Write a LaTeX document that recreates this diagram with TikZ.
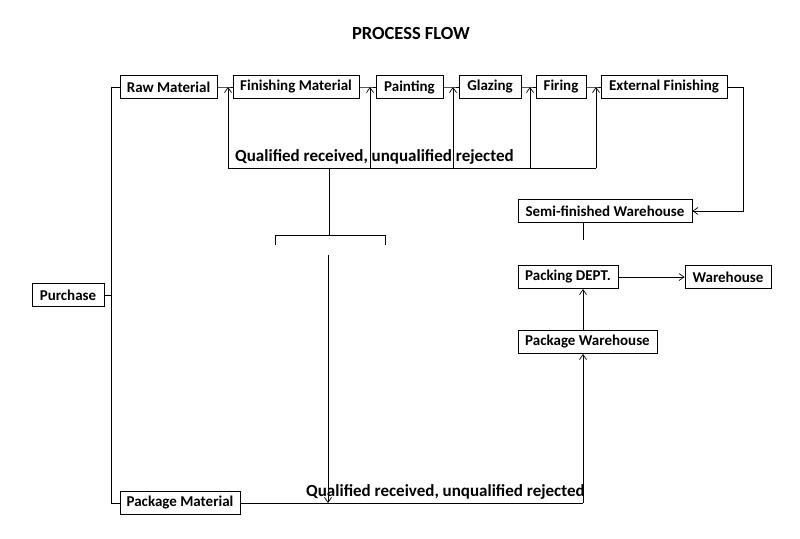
\documentclass[tikz,border=0pt]{standalone}
\usepackage{fontspec}
\setmainfont{Carlito}
\usetikzlibrary{arrows.meta}
\begin{document}
\begin{tikzpicture}[x=1pt,y=-1pt,
  box/.style={draw,line width=0.8pt,minimum height=23pt,inner sep=0pt,font=\bfseries\fontsize{15}{17}\selectfont},
  ln/.style={line width=0.7pt},
  ar/.style={ln,-{Straight Barb[length=5pt,width=7pt]}},
  lbl/.style={font=\bfseries\fontsize{17}{19}\selectfont,inner sep=0pt}]
\useasboundingbox (0,0) rectangle (800,538);
\node[font=\bfseries\fontsize{18.5}{20}\selectfont] (title) at (411,33) {PROCESS FLOW};
\node[box,minimum width=72pt] (pur) at (68,295) {Purchase};
\node[box,minimum width=97pt] (raw) at (168.5,87) {Raw Material};
\node[box,minimum width=126pt] (fin) at (296,87) {Finishing Material};
\node[box,minimum width=67pt] (pai) at (409.5,87) {Painting};
\node[box,minimum width=62pt] (gla) at (490,87) {Glazing};
\node[box,minimum width=50pt] (fir) at (561,87) {Firing};
\node[box,minimum width=126pt] (ext) at (664,87) {External Finishing};
\node[box,minimum width=174pt] (semi) at (605,211) {Semi-finished Warehouse};
\node[box,minimum width=100pt] (pack) at (568,277) {Packing DEPT.};
\node[box,minimum width=86pt] (wh) at (728,277) {Warehouse};
\node[box,minimum width=139pt] (pkw) at (587.5,342) {Package Warehouse};
\node[box,minimum width=120pt] (pkm) at (180,503) {Package Material};
% purchase trunk
\coordinate (t1) at (111,87); \coordinate (t2) at (111,503);
\draw[ln] (raw.west) -- (t1) -- (t2) -- (pkm.west);
\draw[ln] (pur.east) -- (111,295);
% top row joins
\foreach \a/\b/\x in {raw/fin/228,fin/pai/370,pai/gla/453,gla/fir/530,fir/ext/596}{
  \draw[ln] (\a.east) -- (\x,87) -- (\b.west);
  \draw[ar] (\x,168) -- (\x,87);
}
\draw[ln] (228,168) -- (596,168);
\node[lbl,anchor=south west] (q1) at (235,165) {Qualified received, unqualified rejected};
\draw[ln] (329,168) -- (329,235);
\draw[ln] (275,245) -- (275,235) -- (385,235) -- (385,245);
\draw[ar] (328,255) -- (328,503);
% ext to semi
\draw[ar] (ext.east) -- (743,87) -- (743,211) -- (semi.east);
\draw[ln] (583,222) -- (583,240);
\draw[ar] (pack.east) -- (wh.west);
\draw[ar] (583,330) -- (583,289);
% bottom
\coordinate (b1) at (583,503);
\draw[ln] (pkm.east) -- (b1);
\draw[ar] (b1) -- (583,354);
\node[lbl,anchor=south west] (q2) at (306,500) {Qualified received, unqualified rejected};
\end{tikzpicture}
\end{document}
